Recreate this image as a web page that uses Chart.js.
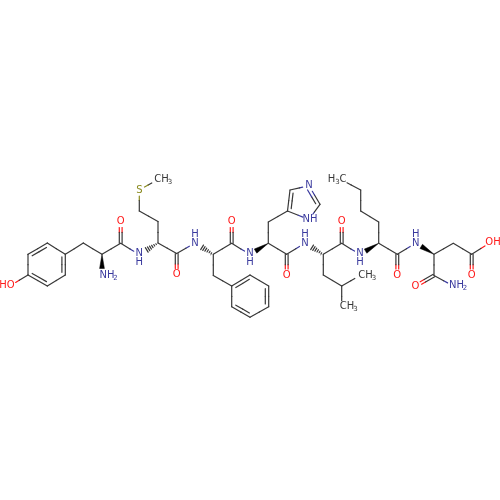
<!DOCTYPE html>
<html>
<head>
<meta charset="utf-8">
<style>
  html, body { margin: 0; padding: 0; background: #fff; }
  canvas { display: block; }
</style>
<script src="https://cdn.jsdelivr.net/npm/chart.js@4"></script>
</head>
<body>
<canvas id="myChart" width="500" height="500"></canvas>
<script>
// atoms (index = atom number)
const atomX = [28, 28, 47.3, 65.3, 65.3, 47.3, 10.5, 83.3, 102, 102, 120.7, 120.7, 139.3, 158, 158, 139.3, 139.3, 157,
  176.7, 176.7, 195, 213.3, 231.7, 231.7, 213.3, 231.7, 250, 268.7, 268.7, 250, 231.7,
  250, 268.3, 286.7, 286.7, 268.3, 287.5, 290, 309, 320, 309,
  305, 323.3, 341.7, 341.7, 323.3, 341.7, 360, 341.7,
  360, 378.7, 397.3, 397.3, 378.7, 360.7, 360.7, 341.7,
  415.7, 434, 453.3, 471.7, 471.7, 490, 434, 415.7, 453.3];
const atomY = [275, 254.3, 243, 254.3, 275, 286, 285.5, 243, 254.3, 275, 243.3, 221.5, 254.5, 243, 221.5, 211, 190, 180,
  253.5, 274.5, 243, 254.3, 243.3, 221.5, 275.5, 286, 275, 286, 306.7, 317.3, 306.7,
  254.5, 243.3, 254.3, 275, 222, 211, 190, 185.7, 204.3, 219.5,
  243, 254.3, 243.3, 221.5, 275, 286, 275.5, 306.7,
  254.5, 243.3, 254.3, 275, 222, 211, 190, 180,
  243, 254.3, 243.3, 254.3, 275, 242.7, 275.5, 286, 286];
const atomKind = ['C', 'C', 'C', 'C', 'C', 'C', 'O', 'C', 'C', 'N', 'C', 'O', 'N', 'C', 'C', 'C', 'S', 'M',
  'C', 'O', 'N', 'C', 'C', 'O', 'C', 'C', 'C', 'C', 'C', 'C', 'C',
  'N', 'C', 'C', 'O', 'C', 'C', 'C', 'N', 'C', 'N',
  'N', 'C', 'C', 'O', 'C', 'C', 'M', 'M',
  'N', 'C', 'C', 'O', 'C', 'C', 'C', 'M',
  'N', 'C', 'C', 'C', 'O', 'O', 'C', 'O', 'N'];

const singleBonds = [[0, 1], [1, 2], [2, 3], [3, 4], [4, 5], [5, 0], [0, 6], [3, 7], [7, 8], [8, 10], [10, 12],
  [13, 14], [14, 15], [15, 16], [16, 17], [13, 18], [18, 20], [21, 22], [21, 24], [24, 25],
  [25, 26], [26, 27], [27, 28], [28, 29], [29, 30], [30, 25], [22, 31], [32, 33], [32, 35], [35, 36],
  [36, 37], [37, 38], [38, 39], [39, 40], [40, 36], [33, 41], [42, 43], [42, 45], [45, 46], [46, 47], [46, 48],
  [43, 49], [50, 51], [50, 53], [53, 54], [54, 55], [55, 56], [51, 57], [58, 59], [59, 60], [60, 62], [58, 63], [63, 65]];
const carbonylBonds = [[10, 11], [18, 19], [22, 23], [33, 34], [43, 44], [51, 52], [60, 61], [63, 64]];
// inner line of ring double bonds: bond, then the ring centre atom pair used for the side
const ringDoubles = [[1, 2, 0, 3], [3, 4, 2, 5], [5, 0, 4, 1], [25, 26, 27, 30], [27, 28, 26, 29], [29, 30, 28, 25], [36, 37, 38, 40], [38, 39, 37, 40]];
const solidWedges = [[8, 9], [32, 31], [50, 49], [58, 57]];
const hashedWedges = [[13, 12], [21, 20], [42, 41]];

const labelText = ['HO', 'NH', '2', 'O', 'N', 'H', 'S', 'CH', '3', 'O', 'N', 'H', 'O', 'N', 'H', 'O', 'N', 'NH', 'N', 'H', 'O', 'CH', '3', 'CH', '3', 'N', 'H', 'H', '3', 'C', 'O', 'N', 'H', 'O', 'OH', 'O', 'NH', '2'];
const labelX = [7, 107, 115.5, 120.7, 139.3, 139.3, 139.3, 161.5, 170, 176.7, 195, 195, 231.7, 250, 250, 286.7, 309, 310, 305, 305, 341.7, 365.5, 374, 347, 355.5, 360, 360, 331.5, 337.5, 343, 397.3, 415.7, 415.7, 471.7, 493, 415.5, 456.5, 465];
const labelY = [285.5, 275.5, 278.5, 221.5, 253.5, 262.5, 190, 179.5, 182.5, 274.5, 243, 234, 221.5, 253.5, 262.5, 275, 185.5, 219.5, 243, 234, 221.5, 275.5, 278.5, 306.5, 309.5, 253.5, 262.5, 179, 182, 179, 275, 243, 234, 275, 242.5, 286, 285.5, 288.5];
const labelKind = ['O', 'N', 'N', 'O', 'N', 'N', 'S', 'M', 'M', 'O', 'N', 'N', 'O', 'N', 'N', 'O', 'N', 'N', 'N', 'N', 'O', 'M', 'M', 'M', 'M', 'N', 'N', 'M', 'M', 'M', 'O', 'N', 'N', 'O', 'O', 'O', 'N', 'N'];
const subscripts = ['2', '3'];

const colors = { C: '#383838', M: '#383838', N: '#3a3a9e', O: '#ff1a1a', S: '#8a8a1e' };
const clearance = { C: 0, M: 6, N: 6.5, O: 6, S: 6 };

const datasets = [];

function stroke(x1, y1, x2, y2, color) {
  datasets.push({
    data: [{ x: x1, y: y1 }, { x: x2, y: y2 }],
    showLine: true, borderColor: color, borderWidth: 1.2, pointRadius: 0, borderCapStyle: 'round'
  });
}

// half of the bond in each atom's colour, cut back where a label sits
function bondLine(a, b, ox, oy) {
  const dx = atomX[b] - atomX[a], dy = atomY[b] - atomY[a];
  const len = Math.hypot(dx, dy);
  const ux = dx / len, uy = dy / len;
  const ca = clearance[atomKind[a]], cb = clearance[atomKind[b]];
  const ax = atomX[a] + ox + ux * ca, ay = atomY[a] + oy + uy * ca;
  const bx = atomX[b] + ox - ux * cb, by = atomY[b] + oy - uy * cb;
  const mx = atomX[a] + ox + dx / 2, my = atomY[a] + oy + dy / 2;
  stroke(ax, ay, mx, my, colors[atomKind[a]]);
  stroke(mx, my, bx, by, colors[atomKind[b]]);
}

singleBonds.forEach(b => bondLine(b[0], b[1], 0, 0));

carbonylBonds.forEach(b => {
  const dx = atomX[b[1]] - atomX[b[0]], dy = atomY[b[1]] - atomY[b[0]];
  const len = Math.hypot(dx, dy);
  const nx = -dy / len * 1.4, ny = dx / len * 1.4;
  bondLine(b[0], b[1], nx, ny);
  bondLine(b[0], b[1], -nx, -ny);
});

ringDoubles.forEach(r => {
  const a = r[0], b = r[1];
  const cx = (atomX[r[2]] + atomX[r[3]]) / 2, cy = (atomY[r[2]] + atomY[r[3]]) / 2;
  const mx = (atomX[a] + atomX[b]) / 2, my = (atomY[a] + atomY[b]) / 2;
  const len = Math.hypot(cx - mx, cy - my);
  const ox = (cx - mx) / len * 3.4, oy = (cy - my) / len * 3.4;
  const t = 0.13;
  const x1 = atomX[a] + (atomX[b] - atomX[a]) * t + ox, y1 = atomY[a] + (atomY[b] - atomY[a]) * t + oy;
  const x2 = atomX[b] + (atomX[a] - atomX[b]) * t + ox, y2 = atomY[b] + (atomY[a] - atomY[b]) * t + oy;
  const xm = (x1 + x2) / 2, ym = (y1 + y2) / 2;
  stroke(x1, y1, xm, ym, colors[atomKind[a]]);
  stroke(xm, ym, x2, y2, colors[atomKind[b]]);
});

solidWedges.forEach(w => {
  const a = w[0], b = w[1];
  const dx = atomX[b] - atomX[a], dy = atomY[b] - atomY[a];
  const len = Math.hypot(dx, dy);
  const ux = dx / len, uy = dy / len;
  const ex = atomX[b] - ux * 6.5, ey = atomY[b] - uy * 6.5;
  datasets.push({
    data: [{ x: atomX[a], y: atomY[a] }, { x: ex - uy * 2.4, y: ey + ux * 2.4 }, { x: ex + uy * 2.4, y: ey - ux * 2.4 }, { x: atomX[a], y: atomY[a] }],
    showLine: true, fill: 'shape', backgroundColor: '#000', borderColor: '#000', borderWidth: 0.5, pointRadius: 0
  });
});

hashedWedges.forEach(w => {
  const a = w[0], b = w[1];
  const dx = atomX[b] - atomX[a], dy = atomY[b] - atomY[a];
  const len = Math.hypot(dx, dy);
  const ux = dx / len, uy = dy / len;
  for (let i = 1; i <= 6; i++) {
    const d = i * 2.2, half = d * 0.2;
    const px = atomX[a] + ux * d, py = atomY[a] + uy * d;
    stroke(px - uy * half, py + ux * half, px + uy * half, py - ux * half, '#383838');
  }
});

const atomLabels = {
  id: 'atomLabels',
  afterDraw(chart) {
    const ctx = chart.ctx, sx = chart.scales.x, sy = chart.scales.y;
    ctx.save();
    ctx.textAlign = 'center';
    ctx.textBaseline = 'middle';
    labelText.forEach((t, i) => {
      ctx.font = (subscripts.includes(t) ? '7px' : '10px') + ' "DejaVu Sans"';
      ctx.fillStyle = colors[labelKind[i]];
      ctx.fillText(t, sx.getPixelForValue(labelX[i]), sy.getPixelForValue(labelY[i]));
    });
    ctx.restore();
  }
};

const myChart = new Chart(document.getElementById('myChart'), {
  type: 'scatter',
  data: { datasets: datasets },
  plugins: [atomLabels],
  options: {
    responsive: false,
    animation: false,
    layout: { padding: 0 },
    plugins: { legend: { display: false }, tooltip: { enabled: false } },
    scales: {
      x: { type: 'linear', min: 0, max: 500, display: false },
      y: { type: 'linear', min: 0, max: 500, reverse: true, display: false }
    }
  }
});
</script>
</body>
</html>
